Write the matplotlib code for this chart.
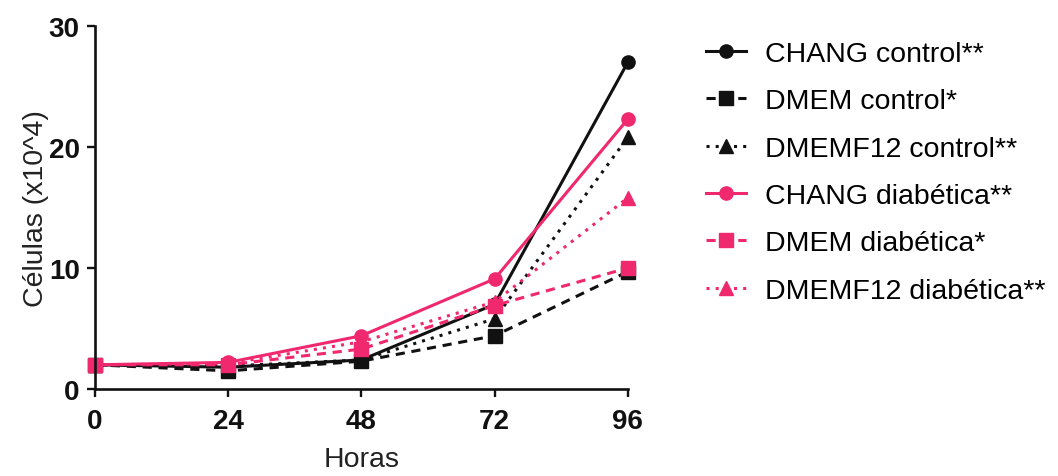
import matplotlib
matplotlib.use("Agg")
import matplotlib.pyplot as plt

plt.rcParams['font.family'] = ['Liberation Sans', 'DejaVu Sans']

hours = [0, 24, 48, 72, 96]
chang_control = [2.0, 1.8, 2.4, 7.0, 27.0]
dmem_control = [2.0, 1.5, 2.3, 4.4, 9.7]
dmemf12_control = [2.0, 1.9, 2.4, 5.8, 20.8]
chang_diab = [2.0, 2.2, 4.4, 9.1, 22.3]
dmem_diab = [2.0, 2.0, 3.3, 6.9, 10.0]
dmemf12_diab = [2.0, 2.1, 3.9, 7.2, 15.8]

labels = ["CHANG control**", "DMEM control*", "DMEMF12 control**",
          "CHANG diabética**", "DMEM diabética*", "DMEMF12 diabética**"]
xticks = [0, 24, 48, 72, 96]
yticks = [0, 10, 20, 30]

BLACK = "#111111"
PINK = "#F0286E"

fig = plt.figure(figsize=(10.58, 4.77), dpi=100)
ax = fig.add_axes([0.0898, 0.1824, 0.5036, 0.761])

series = [
    (chang_control, BLACK, '-', 'o'),
    (dmem_control, BLACK, (0, (3, 2.2)), 's'),
    (dmemf12_control, BLACK, (0, (1, 2.0)), '^'),
    (chang_diab, PINK, '-', 'o'),
    (dmem_diab, PINK, (0, (3, 2.2)), 's'),
    (dmemf12_diab, PINK, (0, (1, 2.0)), '^'),
]
handles = []
for (vals, col, ls, mk), lab in zip(series, labels):
    h, = ax.plot(hours, vals, color=col, linestyle=ls, marker=mk,
                 markersize=9.5, linewidth=2.2, clip_on=False, label=lab)
    handles.append(h)

ax.set_xlim(0, 96)
ax.set_ylim(0, 30)
ax.set_xticks(xticks)
ax.set_yticks(yticks)
for s in ['top', 'right']:
    ax.spines[s].set_visible(False)
for s in ['left', 'bottom']:
    ax.spines[s].set_linewidth(1.9)
    ax.spines[s].set_color(BLACK)
ax.tick_params(axis='both', length=6, width=1.7, colors=BLACK, labelsize=20)
ax.tick_params(axis='x', pad=8)
ax.tick_params(axis='y', pad=5)
for t in ax.get_xticklabels() + ax.get_yticklabels():
    t.set_fontweight('bold')
ax.set_xlabel("Horas", fontsize=20.5, labelpad=8, color="#222222")
ax.set_ylabel("Células (x10^4)", fontsize=20.5, labelpad=0, color="#222222")

fig.legend(handles=handles, labels=labels, loc='upper left',
           bbox_to_anchor=(0.667, 0.912), frameon=False, fontsize=20.5,
           handlelength=1.4, handletextpad=0.7, labelspacing=0.75,
           borderpad=0, borderaxespad=0)

fig.savefig("out.png", dpi=100, facecolor='white')
